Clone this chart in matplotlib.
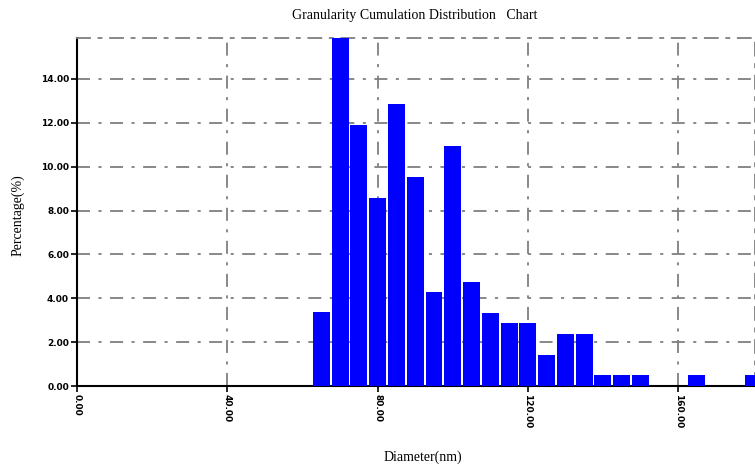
import matplotlib
matplotlib.use("Agg")
import matplotlib.pyplot as plt

# bin centres (nm) and percentage in each bin
diameters = [65, 70, 75, 80, 85, 90, 95, 100, 105, 110, 115, 120, 125,
             130, 135, 140, 145, 150, 165, 180]
percent = [3.36, 16.19, 11.90, 8.57, 12.86, 9.52, 4.29, 10.95, 4.76, 3.33,
           2.86, 2.86, 1.43, 2.38, 2.38, 0.48, 0.48, 0.48, 0.48, 0.48]
xticks = [0, 40, 80, 120, 160]
yticks = [0, 2, 4, 6, 8, 10, 12, 14]

W, H = 755, 468
fig = plt.figure(figsize=(W / 100, H / 100), dpi=100)
ax = fig.add_axes([77.3 / W, 1 - 386 / H, (W - 77.3) / W, (386 - 37.7) / H])

dashdot = (0, (7.2, 4.7, 1.7, 4.7))
ax.set_axisbelow(True)
ax.grid(True, color="#7f7f7f", linewidth=1.3, linestyle=dashdot)

ax.bar(diameters, percent, width=4.5, color="#0000ff", edgecolor="none", zorder=3)

ax.set_xlim(0, 180.5)
ax.set_ylim(0, 15.88)
ax.set_xticks(xticks)
ax.set_xticklabels(["%.2f" % v for v in xticks], rotation=270,
                   fontsize=6.5, fontweight="bold", family="DejaVu Sans")
ax.set_yticks(yticks)
ax.set_yticklabels(["%.2f" % v for v in yticks], fontsize=6.5,
                   fontweight="bold", family="DejaVu Sans")
ax.tick_params(direction="out", length=4, width=1.2, color="black", pad=2)

for s in ["left", "bottom"]:
    ax.spines[s].set_color("black")
    ax.spines[s].set_linewidth(1.5)
for s in ["top", "right"]:
    ax.spines[s].set_color("#7f7f7f")
    ax.spines[s].set_linewidth(1.3)
    ax.spines[s].set_linestyle(dashdot)

fig.text(415 / W, 1 - 15 / H, "Granularity Cumulation Distribution   Chart",
         ha="center", va="center", fontsize=10, family="Liberation Serif")
fig.text(18 / W, 1 - 215 / H, "Percentage(%)", rotation=90,
         ha="center", va="center", fontsize=10, family="Liberation Serif")
fig.text(423 / W, 1 - 457 / H, "Diameter(nm)",
         ha="center", va="center", fontsize=10, family="Liberation Serif")

fig.savefig("out.png", dpi=100)
